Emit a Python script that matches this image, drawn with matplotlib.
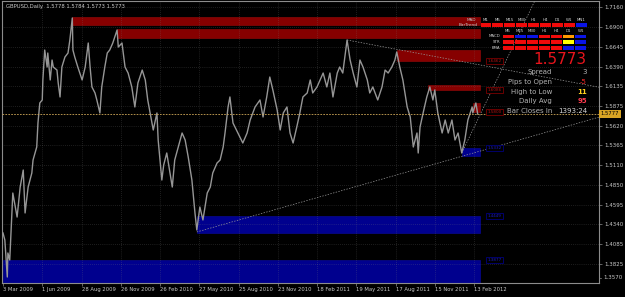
import matplotlib
matplotlib.use('Agg')
import matplotlib.pyplot as plt
from matplotlib.patches import Rectangle

# ------------------------------------------------------------------ data
symbol_header = "GBPUSD,Daily  1.5778 1.5784 1.5773 1.5773"

# bar number counted from 3 Mar 2009 (daily bars) and the close
bars = [0, 3, 7, 8, 11, 16, 23, 28, 33, 36, 41, 47, 49, 55, 57, 60, 64, 65, 68, 72,
        73, 77, 80, 82, 88, 90, 93, 96, 101, 106, 109, 113, 114, 117, 122, 129, 134, 139,
        142, 145, 150, 153, 158, 161, 166, 170, 174, 179, 186, 188, 194, 199, 204, 210,
        215, 220, 227, 232, 236, 243, 245, 251, 253, 256, 259, 262, 267, 276, 280, 289,
        292, 297, 302, 308, 313, 316, 321, 326, 333, 338, 342, 349, 354, 359, 362, 367,
        370, 375, 383, 391, 398, 403, 411, 419, 424, 430, 435, 440, 447, 452, 457, 463,
        468, 473, 479, 484, 489, 496, 501, 505, 512, 517, 522, 528, 533, 538, 545, 549,
        554, 561, 566, 571, 577, 582, 587, 594, 598, 603, 611, 618, 623, 628, 634, 639,
        642, 647, 652, 659, 664, 669, 675, 677, 680, 685, 691, 696, 701, 704, 709, 716,
        721, 726, 732, 737, 742, 748, 753, 758, 765, 766, 771, 774]
closes = [1.4228, 1.4137, 1.3656, 1.3968, 1.3877, 1.4747, 1.4435, 1.4825, 1.5046, 1.4488,
          1.4825, 1.5007, 1.5176, 1.5345, 1.5657, 1.5917, 1.5956, 1.6216, 1.6605, 1.6384,
          1.6566, 1.6216, 1.6475, 1.6384, 1.6345, 1.6177, 1.5995, 1.6384, 1.6514, 1.6566,
          1.6735, 1.7021, 1.6605, 1.6514, 1.6384, 1.6216, 1.6384, 1.6696, 1.6384, 1.6125,
          1.6047, 1.5956, 1.5787, 1.6125, 1.6384, 1.6566, 1.6605, 1.6696, 1.6865, 1.6644,
          1.6696, 1.6384, 1.6306, 1.6125, 1.5865, 1.6177, 1.6345, 1.6216, 1.5956, 1.5657,
          1.5566, 1.5787, 1.5436, 1.5176, 1.4916, 1.5111, 1.5267, 1.4825, 1.5176, 1.5436,
          1.5527, 1.5436, 1.5215, 1.4916, 1.4488, 1.4267, 1.4565, 1.4397, 1.4747, 1.4825,
          1.5007, 1.5137, 1.5176, 1.5345, 1.5527, 1.5865, 1.5995, 1.5657, 1.5527, 1.5397,
          1.5527, 1.5696, 1.5865, 1.5956, 1.5735, 1.5995, 1.6254, 1.6086, 1.5827, 1.5566,
          1.5787, 1.5865, 1.5527, 1.5397, 1.5605, 1.5787, 1.5995, 1.6047, 1.6216, 1.6047,
          1.6125, 1.6216, 1.6306, 1.6125, 1.6306, 1.5995, 1.6306, 1.6384, 1.6306, 1.6735,
          1.6475, 1.6306, 1.6125, 1.6475, 1.6384, 1.6216, 1.6047, 1.6125, 1.5956, 1.6125,
          1.6345, 1.6306, 1.6384, 1.6475, 1.6579, 1.6384, 1.6216, 1.5865, 1.5735, 1.5345,
          1.5527, 1.5267, 1.5605, 1.5787, 1.5995, 1.6125, 1.5956, 1.6086, 1.5787, 1.5527,
          1.5696, 1.5527, 1.5696, 1.5436, 1.5527, 1.5267, 1.5436, 1.5696, 1.5865, 1.5787,
          1.5917, 1.5773]

date_ticks = [0, 64, 128, 192, 256, 320, 384, 448, 512, 576, 640, 704, 768]
date_labels = ['3 Mar 2009', '1 Jun 2009', '28 Aug 2009', '26 Nov 2009', '26 Feb 2010',
               '27 May 2010', '25 Aug 2010', '23 Nov 2010', '18 Feb 2011', '19 May 2011',
               '17 Aug 2011', '15 Nov 2011', '13 Feb 2012']
price_ticks = [1.7160, 1.6900, 1.6645, 1.6390, 1.6135, 1.5875, 1.5620, 1.5365, 1.5110,
               1.4850, 1.4595, 1.4340, 1.4085, 1.3825]
bottom_price_label = '1.3570'

# supply (red) and demand (blue) zones: start bar, top price, bottom price
supply_start = [113, 186, 642, 693, 766]
supply_top = [1.7030, 1.6872, 1.6605, 1.6150, 1.5917]
supply_bottom = [1.6930, 1.6761, 1.6462, 1.6086, 1.5800]
supply_labelled = [False, False, True, True, True]
demand_start = [749, 316, 0]
demand_top = [1.5332, 1.4449, 1.3877]
demand_bottom = [1.5228, 1.4228, 1.3503]
zone_end_bar = 777

# trend lines: two anchor points (bar, price), extended to the right
trend_lines = [((316, 1.4241), (749, 1.5226)),
               ((561, 1.6735), (642, 1.6614)),
               ((748, 1.5267), (838, 1.6761))]

bid_price = 1.5773
ask_label = '1.5777'
ask_price = 1.5777

# info panel
big_price = '1.5773'
info_names = ['Spread', 'Pips to Open', 'High to Low', 'Daily Avg', 'Bar Closes In']
info_values = ['3', '-5', '11', '95', '1393:24']
info_colors = ['#b4b4b4', '#ff2a2a', '#ffd21e', '#ff3c50', '#d8d8d8']

# multi-timeframe panel
mtf1_cols = ['M1', 'M5', 'M15', 'M30', 'H1', 'H4', 'D1', 'W1', 'MN1']
bartrend = ['r', 'r', 'r', 'r', 'r', 'r', 'r', 'r', 'b']
mtf2_cols = ['M5', 'M15', 'M30', 'H1', 'H4', 'D1', 'W1']
mtf2_rows = ['MACD', 'STR', 'EMA']
mtf2_vals = [['r', 'b', 'b', 'r', 'r', 'o', 'b'],
             ['r', 'r', 'r', 'r', 'r', 'y', 'b'],
             ['r', 'r', 'r', 'r', 'r', 'b', 'b']]
sig_color = {'r': '#f00a0a', 'b': '#0a14e6', 'o': '#ff9a00', 'y': '#ffff00'}

# ------------------------------------------------------------------ layout
W, H = 625, 297
fig = plt.figure(figsize=(W / 100, H / 100), dpi=100, facecolor='black')
L, R, T, B = 2, 599, 1, 283
ax = fig.add_axes([L / W, 1 - B / H, (R - L) / W, (B - T) / H])
ax.set_facecolor('black')

# pixel calibration of the MT4 scales
X0, PXB = 3.0, 0.6133          # pixel of bar 0, pixels per bar
Y0, P0, PXP = 7.3, 1.7160, 769.7  # pixel of P0, pixels per price unit
ax.set_xlim((L - X0) / PXB, (R - X0) / PXB)
ax.set_ylim(P0 - (B - Y0) / PXP, P0 + (Y0 - T) / PXP)

grid_c = (0.5, 0.5, 0.5, 0.45)
for t in date_ticks[1:]:
    ax.axvline(t, color=grid_c, lw=0.5, ls=(0, (1, 2)), zorder=3)
for p in price_ticks:
    ax.axhline(p, color=grid_c, lw=0.5, ls=(0, (1, 2)), zorder=3)

# zones
for s, tp, bt in zip(supply_start, supply_top, supply_bottom):
    ax.add_patch(Rectangle((s, bt), zone_end_bar - s, tp - bt, fc='#860000',
                           ec='#9a0a0a', lw=0.4, zorder=2))
for s, tp, bt in zip(demand_start, demand_top, demand_bottom):
    ax.add_patch(Rectangle((s, bt), zone_end_bar - s, tp - bt, fc='#00008e',
                           ec='#0a0aa0', lw=0.4, zorder=2))

lab_x = (494.5 - X0) / PXB
for bt, show in zip(supply_bottom, supply_labelled):
    if show:
        ax.text(lab_x, bt, f'{bt:.4f}', fontsize=3, color='#b01010', ha='center',
                va='center', zorder=8,
                bbox=dict(boxstyle='square,pad=0.35', fc='black', ec='#7a0000', lw=0.6))
for tp in demand_top:
    ax.text(lab_x, tp, f'{tp:.4f}', fontsize=3, color='#1a1ac0', ha='center',
            va='center', zorder=8,
            bbox=dict(boxstyle='square,pad=0.35', fc='black', ec='#00007a', lw=0.6))

# price
ax.plot(bars, closes, color='#969696', lw=1.0, zorder=5)

# trend lines
xr = ax.get_xlim()[1]
for (x1, y1), (x2, y2) in trend_lines:
    k = (y2 - y1) / (x2 - x1)
    ax.plot([x1, xr], [y1, y1 + k * (xr - x1)], color='#9a9a9a', lw=0.5,
            ls=(0, (2, 2)), zorder=6)

# bid line
ax.axhline(bid_price, color='#d0a858', lw=0.6, ls=(0, (2, 1.5)), zorder=6)

# axes styling
for s in ax.spines.values():
    s.set_color('#8c8c8c')
    s.set_linewidth(0.8)
ax.yaxis.tick_right()
ax.set_yticks(price_ticks)
ax.set_yticklabels([f'{p:.4f}' for p in price_ticks])
ax.set_xticks(date_ticks)
ax.set_xticklabels(date_labels)
ax.tick_params(axis='y', length=2, width=0.5, color='#8c8c8c', pad=1.5,
               labelsize=4, labelcolor='#c8c8c8')
ax.tick_params(axis='x', length=2, width=0.5, color='#8c8c8c', pad=1.2,
               labelsize=3.8, labelcolor='#c8c8c8')
for lab in ax.get_xticklabels():
    lab.set_ha('left')

ax.text(1.003, ask_price, ask_label, transform=ax.get_yaxis_transform(), ha='left',
        va='center', fontsize=3.8, color='black', clip_on=False, zorder=9,
        bbox=dict(boxstyle='square,pad=0.25', fc='#d8a424', ec='none'))

# ------------------------------------------------------------------ overlay (pixel coords)
ov = fig.add_axes([0, 0, 1, 1], zorder=10)
ov.set_xlim(0, W)
ov.set_ylim(H, 0)
ov.axis('off')
ov.patch.set_alpha(0)

ov.text(603, 277.5, bottom_price_label, fontsize=4, color='#c8c8c8', ha='left', va='center')
ov.plot([599, 601], [277.5, 277.5], color='#8c8c8c', lw=0.5)
ov.text(6, 6.8, symbol_header, fontsize=3.8, color='#c8c8c8', ha='left', va='center')

# MTF panel 1
pitch1, x1s = 11.9, 480
ov.text(476, 20, 'MAD', fontsize=3, color='#c0c0c0', ha='right', va='center')
ov.text(478, 25, 'BarTrend', fontsize=3.1, color='#c8c8c8', ha='right', va='center')
for i, (c, v) in enumerate(zip(mtf1_cols, bartrend)):
    cx = x1s + pitch1 * (i + 0.5)
    ov.text(cx, 20, c, fontsize=2.9, color='#d0d0d0', ha='center', va='center')
    ov.add_patch(Rectangle((x1s + pitch1 * i + 0.5, 23.3), pitch1 - 1, 3.4,
                           fc=sig_color[v], ec='none'))
# MTF panel 2
pitch2, x2s = 12.1, 502
for i, c in enumerate(mtf2_cols):
    ov.text(x2s + pitch2 * (i + 0.5), 30.7, c, fontsize=2.9, color='#d0d0d0',
            ha='center', va='center')
row_y = [34.5, 40.2, 46.0]
for r, (name, vals) in enumerate(zip(mtf2_rows, mtf2_vals)):
    ov.text(500, row_y[r] + 1.8, name, fontsize=2.9, color='#d0d0d0', ha='right',
            va='center')
    for i, v in enumerate(vals):
        ov.add_patch(Rectangle((x2s + pitch2 * i + 0.5, row_y[r]), pitch2 - 1, 3.8,
                               fc=sig_color[v], ec='none'))

# info panel
ov.text(586, 59.5, big_price, fontsize=11, color='#e8141c', ha='right', va='center')
info_y = [71.7, 81.7, 91.7, 101.2, 110.8]
for y, n, v, c in zip(info_y, info_names, info_values, info_colors):
    ov.text(552, y, n, fontsize=5, color='#b4b4b4', ha='right', va='center')
    ov.text(587, y, v, fontsize=5, color=c, ha='right', va='center',
            fontweight='bold' if v in ('11', '95') else 'normal')

fig.savefig('out.png', dpi=100, facecolor='black')
